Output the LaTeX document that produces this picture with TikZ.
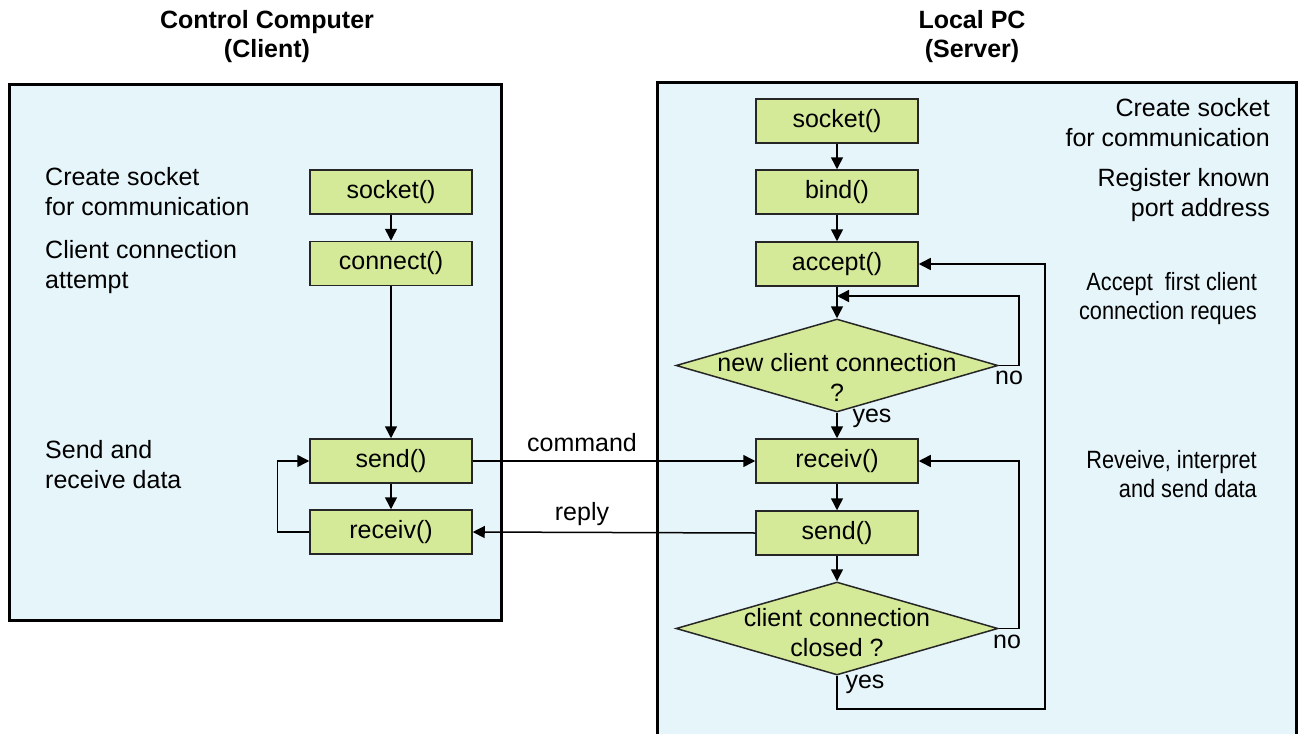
\documentclass[tikz,border=0pt]{standalone}
\usepackage{fontspec}
\setmainfont{Liberation Sans}
\newfontfamily\narrowfont[FakeStretch=0.87]{Liberation Sans}
\usetikzlibrary{shapes.geometric,arrows.meta}
\definecolor{panelblue}{RGB}{230,245,250}
\definecolor{boxgreen}{RGB}{213,234,153}
\begin{document}
\begin{tikzpicture}[x=1pt,y=-1pt,
  every node/.style={font=\fontsize{25}{30}\selectfont},
  panel/.style={draw=black, line width=3pt, fill=panelblue},
  fbox/.style={draw=black!85, line width=1.5pt, fill=boxgreen, minimum width=162pt, minimum height=44pt, inner sep=0pt},
  dia/.style={diamond, draw=black!85, line width=1.5pt, fill=boxgreen, minimum width=322pt, minimum height=93pt, inner sep=0pt},
  dtext/.style={align=center, inner sep=0pt},
  conn/.style={line width=1.5pt},
  arr/.style={conn, -{Triangle[length=12pt,width=12pt]}},
  lnote/.style={align=left, inner sep=0pt, anchor=west},
  rnote/.style={align=right, inner sep=0pt, anchor=east},
  nnote/.style={align=right, inner sep=0pt, anchor=east, font=\narrowfont\fontsize{25}{29}\selectfont},
  head/.style={align=center, inner sep=0pt, font=\bfseries\fontsize{25}{29}\selectfont},
  small/.style={inner sep=0pt}
]
\useasboundingbox (0,0) rectangle (1300,733);
\clip (0,0) rectangle (1300,733);

% headers
\node[head] (hleft) at (267,37) {Control Computer\\(Client)};
\node[head] (hright) at (972,37) {Local PC\\(Server)};

% panels
\draw[panel] (9,85) rectangle (501,620);
\draw[panel] (657,83) rectangle (1296,760);

% client side notes
\node[lnote] (ln1) at (45,192) {Create socket\\for communication};
\node[lnote] (ln2) at (45,267) {Client connection\\attempt};
\node[lnote] (ln3) at (45,465) {Send and\\receive data};

% server side notes
\node[rnote] (rn1) at (1270,123) {Create socket\\for communication};
\node[rnote] (rn2) at (1270,195.5) {Register known\\port address};
\node[nnote] (rn3) at (1257,298.5) {Accept\ \ first client\\connection reques};
\node[nnote] (rn4) at (1257,474.5) {Reveive, interpret\\and send data};

% client boxes
\node[fbox] (csock) at (391,192) {socket()};
\node[fbox] (cconn) at (391,263.5) {connect()};
\node[fbox] (csend) at (391,461) {send()};
\node[fbox] (crecv) at (391,532) {receiv()};

% server boxes
\node[fbox] (ssock) at (837,121) {socket()};
\node[fbox] (sbind) at (837,192) {bind()};
\node[fbox] (sacc) at (837,264) {accept()};
\node[dia] (d1) at (837,365.5) {};
\node[dtext] (d1t) at (837,377) {new client connection\\?};
\node[fbox] (srecv) at (837,461) {receiv()};
\node[fbox] (ssend) at (837,533) {send()};
\node[dia] (d2) at (837,628.5) {};
\node[dtext] (d2t) at (837,633) {client connection\\closed ?};

% client connectors
\draw[arr] (csock) -- (cconn);
\draw[arr] (cconn) -- (csend);
\draw[arr] (csend) -- (crecv);
\draw[arr] (crecv.west) -- ++(-32,0) |- (csend.west);

% inter-process messages
\draw[arr] (csend.east) -- (srecv.west);
\draw[arr] (ssend.west) -- (crecv.east);
\node[small] (lcmd) at (582,443) {command};
\node[small] (lrep) at (582,514) {reply};

% server connectors
\draw[arr] (ssock) -- (sbind);
\draw[arr] (sbind) -- (sacc);
\draw[arr] (sacc.south) -- (d1.north);
\coordinate (j1) at (837,296);
\draw[arr] (d1.east) -- ++(20,0) |- (j1);
\draw[arr] (d1.south) -- (srecv.north);
\draw[arr] (srecv) -- (ssend);
\draw[arr] (ssend.south) -- (d2.north);
\draw[arr] (d2.east) -- ++(20,0) |- (srecv.east);
\draw[arr] (d2.south) -- ++(0,33) -- ++(208,0) |- (sacc.east);

% branch labels
\node[small] (no1) at (1009,378) {no};
\node[small] (yes1) at (872,418) {yes};
\node[small] (no2) at (1007,642) {no};
\node[small] (yes2) at (865,684) {yes};
\end{tikzpicture}
\end{document}
